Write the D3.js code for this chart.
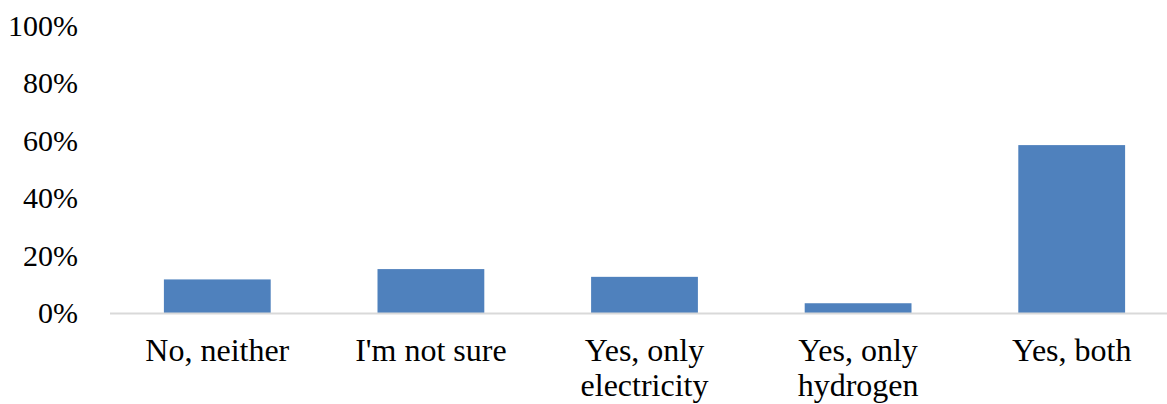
<!DOCTYPE html>
<html><head><meta charset="utf-8">
<script src="https://cdn.jsdelivr.net/npm/d3@7"></script>
<style>body{margin:0;background:#fff}svg{display:block}</style>
</head><body>
<script>
const categories = [["No, neither"], ["I'm not sure"], ["Yes, only", "electricity"], ["Yes, only", "hydrogen"], ["Yes, both"]];
const values = [11.7, 15.3, 12.6, 3.4, 58.5];
const yTicks = [0, 20, 40, 60, 80, 100];

const W = 1167, H = 404;
const svg = d3.select("body").append("svg").attr("width", W).attr("height", H);
const font = "'Liberation Serif','Times New Roman',serif";

const x = d3.scaleBand().domain(d3.range(categories.length)).range([110.5, 1178.5]).paddingInner(0.5).paddingOuter(0.25);
const y = d3.scaleLinear().domain([0, 100]).range([313, 26]);

svg.selectAll("rect.bar").data(values).join("rect")
  .attr("class", "bar")
  .attr("x", (d, i) => x(i))
  .attr("width", x.bandwidth())
  .attr("y", d => y(d))
  .attr("height", d => y(0) - y(d))
  .attr("fill", "#4f81bd");

svg.append("line").attr("x1", 110).attr("x2", W).attr("y1", 313.5).attr("y2", 313.5)
  .attr("stroke", "#d9d9d9").attr("stroke-width", 2);

svg.selectAll("text.ytick").data(yTicks).join("text")
  .attr("class", "ytick")
  .attr("x", 78).attr("y", d => y(d) + 10)
  .attr("text-anchor", "end")
  .attr("font-family", font).attr("font-size", 30).attr("fill", "#000")
  .text(d => d + "%");

const xl = svg.selectAll("text.xlab").data(categories).join("text")
  .attr("class", "xlab")
  .attr("text-anchor", "middle")
  .attr("font-family", font).attr("font-size", 32).attr("fill", "#000");
xl.each(function(lines, i) {
  const t = d3.select(this);
  lines.forEach((l, j) => {
    t.append("tspan").attr("x", x(i) + x.bandwidth() / 2).attr("y", 361 + j * 35).text(l);
  });
});
</script>
</body></html>
